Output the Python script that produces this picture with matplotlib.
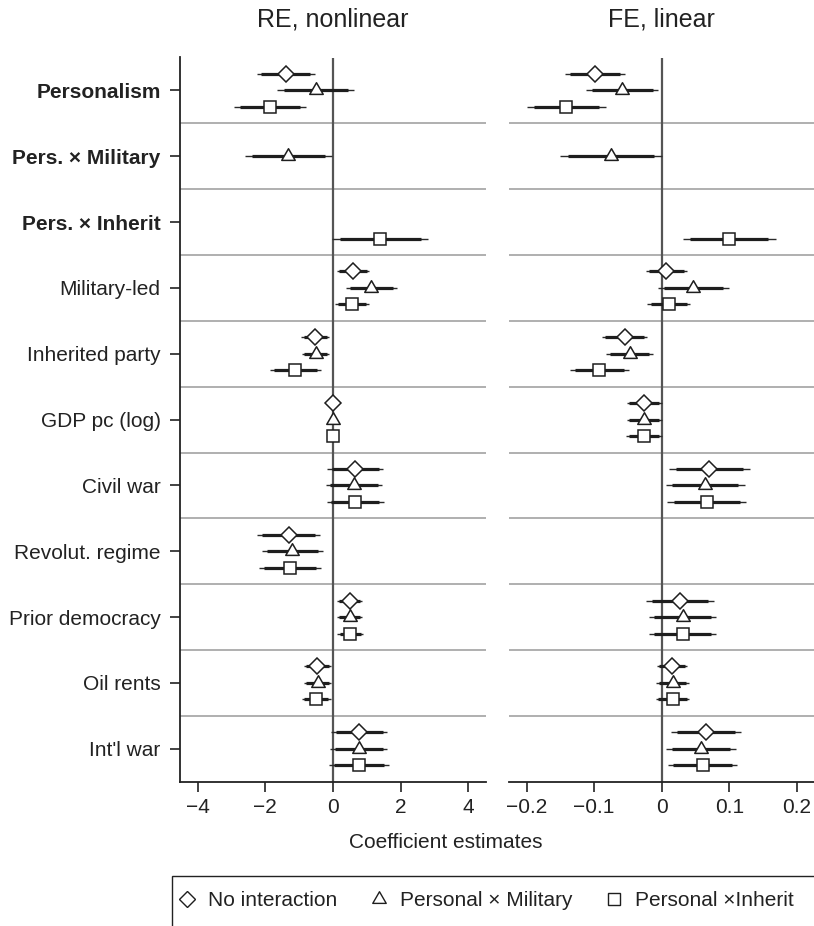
import numpy as np
import matplotlib
matplotlib.use("Agg")
from matplotlib import pyplot as plt
from matplotlib.lines import Line2D
from matplotlib.patches import Rectangle
from matplotlib.path import Path

plt.rcParams["font.family"] = ["Liberation Sans", "DejaVu Sans"]
plt.rcParams["font.size"] = 15

nan = np.nan

ROWS = ["Personalism", "Pers. × Military", "Pers. × Inherit", "Military-led",
        "Inherited party", "GDP pc (log)", "Civil war", "Revolut. regime",
        "Prior democracy", "Oil rents", "Int'l war"]
BOLD_ROWS = 3

MODELS = ["No interaction", "Personal × Military", "Personal ×Inherit"]

# Random-effects (nonlinear) estimates and standard errors
re_coef_base = [-1.39, nan, nan, 0.59, -0.52, 0.0, 0.66, -1.31, 0.49, -0.46, 0.775]
re_se_base = [0.44, nan, nan, 0.245, 0.21, 0.02, 0.423, 0.472, 0.184, 0.199, 0.421]
re_coef_pm = [-0.515, -1.32, nan, 1.135, -0.51, 0.0, 0.625, -1.205, 0.49, -0.45, 0.755]
re_se_pm = [0.574, 0.653, nan, 0.39, 0.207, 0.02, 0.426, 0.457, 0.184, 0.204, 0.431]
re_coef_pi = [-1.86, nan, 1.40, 0.565, -1.11, 0.0, 0.655, -1.265, 0.515, -0.49, 0.77]
re_se_pi = [0.543, nan, 0.724, 0.258, 0.383, 0.02, 0.431, 0.472, 0.196, 0.214, 0.449]

# Fixed-effects (linear) estimates and standard errors
fe_coef_base = [-0.0985, nan, nan, 0.007, -0.055, -0.026, 0.0705, nan, 0.027, 0.0155, 0.0655]
fe_se_base = [0.0227, nan, nan, 0.0158, 0.0173, 0.0133, 0.0304, nan, 0.0255, 0.0115, 0.0263]
fe_coef_pm = [-0.0585, -0.075, nan, 0.047, -0.0475, -0.026, 0.0645, nan, 0.031, 0.016, 0.0585]
fe_se_pm = [0.0273, 0.0383, nan, 0.0265, 0.0176, 0.0133, 0.0298, nan, 0.0255, 0.0122, 0.0263]
fe_coef_pi = [-0.141, nan, 0.100, 0.0105, -0.0925, -0.026, 0.0665, nan, 0.031, 0.016, 0.0605]
fe_se_pi = [0.0296, nan, 0.0352, 0.0161, 0.0222, 0.0135, 0.0298, nan, 0.0255, 0.0127, 0.0263]

RE_XTICKS = [-4, -2, 0, 2, 4]
RE_XTICKLABELS = ["\u22124", "\u22122", "0", "2", "4"]
FE_XTICKS = [-0.2, -0.1, 0, 0.1, 0.2]
FE_XTICKLABELS = ["\u22120.2", "\u22120.1", "0", "0.1", "0.2"]

Z90, Z95 = 1.645, 1.96

# equilateral triangle centred on its centroid
tri = Path([(0, 0.577), (-0.5, -0.289), (0.5, -0.289), (0, 0.577)],
           [Path.MOVETO, Path.LINETO, Path.LINETO, Path.CLOSEPOLY])
MARKERS = [("D", 8.3), (tri, 11.2), ("s", 8.6)]
OFFSETS = [-0.25, 0.0, 0.25]
INK = "#1e1e1e"


def coef_panel(ax, series, xlim, ticks, ticklabels, title):
    ypos = np.arange(len(ROWS))
    for y in ypos[:-1]:
        ax.axhline(y + 0.5, color="#9a9a9a", lw=1.1, zorder=1)
    ax.axvline(0, color="#555555", lw=1.6, zorder=2)

    for (coef, se), (mk, ms), off in zip(series, MARKERS, OFFSETS):
        coef = np.array(coef)
        se = np.array(se)
        ok = ~np.isnan(coef)
        yy = ypos[ok] + off
        c, s = coef[ok], se[ok]
        ax.hlines(yy, c - Z95 * s, c + Z95 * s, color="#2a2a2a", lw=1.0, zorder=3)
        ax.hlines(yy, c - Z90 * s, c + Z90 * s, color=INK, lw=2.3,
                  capstyle="butt", zorder=4)
        ax.plot(c, yy, ls="none", marker=mk, ms=ms, mfc="white", mec=INK,
                mew=1.1, zorder=5)

    ax.set_xlim(*xlim)
    ax.set_ylim(len(ROWS) - 0.5, -0.5)
    ax.set_xticks(ticks)
    ax.set_xticklabels(ticklabels)
    ax.set_title(title, fontsize=18, pad=22, color="#222222")
    ax.tick_params(axis="both", length=7, width=1.2, color="#222222",
                   labelcolor="#222222", labelsize=15)
    ax.tick_params(axis="x", pad=5)
    ax.tick_params(axis="y", pad=7)
    for side in ("top", "right"):
        ax.spines[side].set_visible(False)
    for side in ("left", "bottom"):
        ax.spines[side].set_linewidth(1.3)
        ax.spines[side].set_color("#222222")


fig = plt.figure(figsize=(8.14, 9.26), dpi=100)
ax_re = fig.add_axes([180 / 814, 1 - 781.7 / 926, 306 / 814, 724.2 / 926])
ax_fe = fig.add_axes([509 / 814, 1 - 781.7 / 926, 305.4 / 814, 724.2 / 926])

coef_panel(ax_re,
           [(re_coef_base, re_se_base), (re_coef_pm, re_se_pm), (re_coef_pi, re_se_pi)],
           (-4.52, 4.52), RE_XTICKS, RE_XTICKLABELS, "RE, nonlinear")
coef_panel(ax_fe,
           [(fe_coef_base, fe_se_base), (fe_coef_pm, fe_se_pm), (fe_coef_pi, fe_se_pi)],
           (-0.226, 0.226), FE_XTICKS, FE_XTICKLABELS, "FE, linear")

ax_re.set_yticks(np.arange(len(ROWS)))
ax_re.set_yticklabels(ROWS)
for lab in ax_re.get_yticklabels()[:BOLD_ROWS]:
    lab.set_fontweight("bold")

ax_fe.set_yticks([])
ax_fe.spines["left"].set_visible(False)

fig.text(446 / 814, 1 - 843 / 926, "Coefficient estimates", ha="center",
         va="center", fontsize=15, color="#222222")

# legend: markers only, inside an open-ended box
handles = [Line2D([], [], ls="none", marker=mk, ms=ms, mfc="white", mec=INK, mew=1.0)
           for mk, ms in MARKERS]
fig.legend(handles, MODELS, ncol=3, loc="center left",
           bbox_to_anchor=(158 / 814, 1 - 901 / 926), frameon=False,
           fontsize=15, handlelength=1.0, handletextpad=0.5, columnspacing=1.5,
           labelcolor="#222222")
fig.patches.append(Rectangle((172 / 814, -0.05), 0.8, 1 - 876 / 926 + 0.05,
                             transform=fig.transFigure, fill=False,
                             ec="#222222", lw=1.0))

fig.savefig("out.png", dpi=100)
